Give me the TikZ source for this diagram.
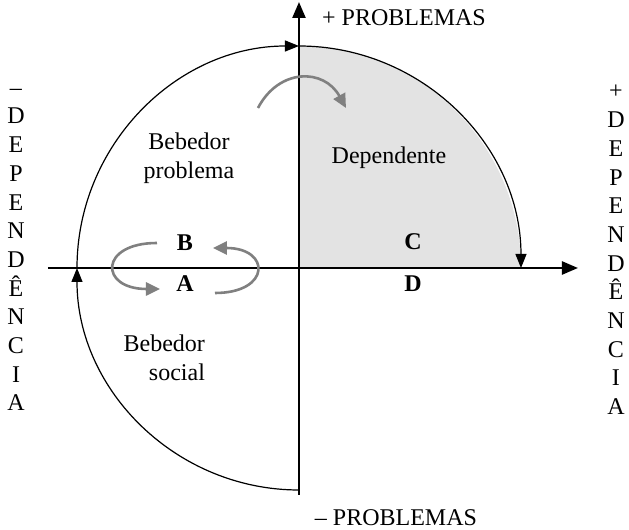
\documentclass[tikz,border=0pt]{standalone}
\usepackage{fontspec}
\setmainfont{Liberation Serif}
\usetikzlibrary{arrows.meta}

\begin{document}
\begin{tikzpicture}[x=0.5pt, y=0.5pt, font=\fontsize{12}{14.5}\selectfont,
  axis/.style={line width=1.2pt, -{Triangle[length=8pt,width=6.5pt]}},
  cyclearc/.style={line width=0.6pt, -{Triangle[length=7pt,width=5.5pt]}},
  turn/.style={gray, line width=1.3pt, -{Triangle[length=7pt,width=6.5pt]}},
  quad/.style={font=\fontsize{12}{14.5}\selectfont\bfseries},
  vertword/.style={align=center, font=\fontsize{12}{14.35}\selectfont}]
  \useasboundingbox (-299,-262) rectangle (330,268);
  \coordinate (O) at (0,0);
  \coordinate (top) at (0,222);
  \coordinate (left) at (-222,0);
  \coordinate (bot) at (0,-222);
  \fill[gray!22] (O) -- (top) arc[start angle=90, end angle=0, radius=111pt] -- cycle;
  % axes
  \coordinate (west) at (-251,0);
  \coordinate (east) at (279,0);
  \coordinate (south) at (0,-227);
  \coordinate (north) at (0,266);
  \draw[axis] (west) -- (east);
  \draw[axis] (south) -- (north);
  % the circle, in three arcs
  \draw[cyclearc] (bot) arc[start angle=-90, end angle=-180, radius=111pt];
  \draw[cyclearc] (left) arc[start angle=180, end angle=90, radius=111pt];
  \draw[cyclearc] (top) arc[start angle=90, end angle=0, radius=111pt];
  % labels
  \node (plusprob) at (105,250) {+ PROBLEMAS};
  \node (minusprob) at (97,-250) {– PROBLEMAS};
  \node[vertword] (minusdep) at (-283,18) {–\\D\\E\\P\\E\\N\\D\\Ê\\N\\C\\I\\A};
  \node[vertword] (plusdep) at (317,18) {+\\D\\E\\P\\E\\N\\D\\Ê\\N\\C\\I\\A};
  \node[align=center] (problema) at (-110,110) {Bebedor\\problema};
  \node (dependente) at (90,110) {Dependente};
  \node[align=right, anchor=east] (social) at (-87,-90) {Bebedor\\social};
  \node[quad] (B) at (-114,25) {B};
  \node[quad] (A) at (-114,-16) {A};
  \node[quad] (C) at (114,26) {C};
  \node[quad] (D) at (114,-16) {D};
  % gray turns
  \coordinate (p1) at (-41,160);
  \coordinate (p2) at (47,160);
  \draw[turn] (p1) .. controls (-20,200) and (25,200) .. (p2);
  \coordinate (b1) at (-142,25);
  \coordinate (a1) at (-139,-21);
  \draw[turn] (b1) .. controls (-200,25) and (-200,-21) .. (a1);
  \coordinate (a2) at (-84,-25);
  \coordinate (b2) at (-86,20);
  \draw[turn] (a2) .. controls (-28,-25) and (-28,20) .. (b2);
\end{tikzpicture}
\end{document}
